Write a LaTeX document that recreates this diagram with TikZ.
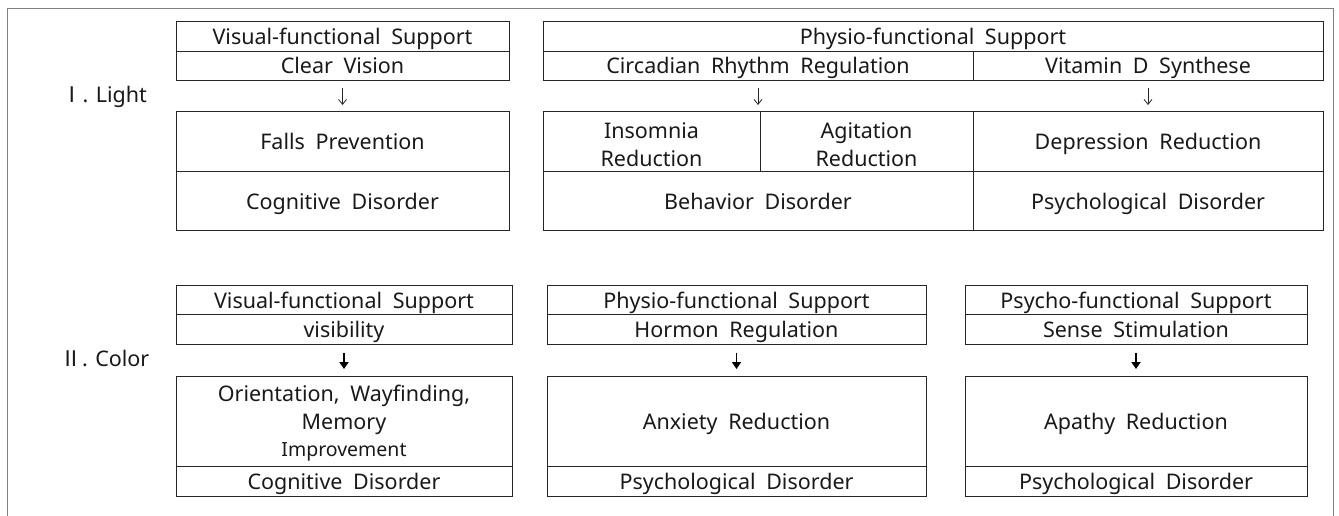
\documentclass[tikz,border=0pt]{standalone}
\usepackage{fontspec}
\setmainfont{Noto Sans}[WordSpace=1.9]
\newfontfamily\lblfont{Noto Sans}
\newfontfamily\symfont{Noto Sans CJK KR}
\usetikzlibrary{arrows.meta,calc}
\begin{document}
\begin{tikzpicture}[x=1pt,y=-1pt,
  cell/.style={draw=black!85,line width=0.9pt,inner sep=0pt,outer sep=0pt,align=center,
    font=\fontsize{21.5}{28}\selectfont,text=black!90},
  one/.style={text height=19pt,text depth=2pt},
  lbl/.style={font=\lblfont\fontsize{21.5}{24}\selectfont,text=black!90,inner sep=0pt},
  thinarr/.style={draw=black!85,line width=0.8pt,-{Straight Barb[length=5pt,width=8pt]}},
  boldarr/.style={draw=black,line width=1.8pt,-{Triangle[length=7pt,width=9pt]}},
  frame/.style={draw=black!50,line width=1.4pt}]
\useasboundingbox (0,0) rectangle (1339,516);
% outer frame
\draw[frame] (7.5,516) -- (7.5,8.5) -- (1333.5,8.5) -- (1333.5,516);

% ---------- I. Light ----------
\node[lbl] (lightlbl) at (104,97) {{\symfont Ⅰ}. Light};
% left block
\node[cell,one,minimum width=333pt,minimum height=30pt] (la1) at (342.5,36) {Visual-functional Support};
\node[cell,one,minimum width=333pt,minimum height=29pt] (la2) at (342.5,65.5) {Clear Vision};
\node[cell,one,minimum width=333pt,minimum height=60pt] (la3) at (342.5,141) {Falls Prevention};
\node[cell,one,minimum width=333pt,minimum height=59pt] (la4) at (342.5,200.5) {Cognitive Disorder};
\draw[thinarr,shorten <=8pt,shorten >=6pt] (la2.south) -- (la3.north);
% right block
\node[cell,one,minimum width=780pt,minimum height=30pt] (lb1) at (933,36) {Physio-functional Support};
\node[cell,one,minimum width=430pt,minimum height=29pt] (lb2) at (758,65.5) {Circadian Rhythm Regulation};
\node[cell,one,minimum width=350pt,minimum height=29pt] (lb3) at (1148,65.5) {Vitamin D Synthese};
\node[cell,minimum width=217pt,minimum height=60pt] (lb4) at (651.5,141) {};
\node[cell,minimum width=213pt,minimum height=60pt] (lb5) at (866.5,141) {};
\node[cell,align=center,draw=none,anchor=center] (lb4t) at ([yshift=-4pt]lb4.center) {Insomnia\\Reduction};
\node[cell,align=center,draw=none,anchor=center] (lb5t) at ([yshift=-4pt]lb5.center) {Agitation\\Reduction};
\node[cell,one,minimum width=350pt,minimum height=60pt] (lb6) at (1148,141) {Depression Reduction};
\node[cell,one,minimum width=430pt,minimum height=59pt] (lb7) at (758,200.5) {Behavior Disorder};
\node[cell,one,minimum width=350pt,minimum height=59pt] (lb8) at (1148,200.5) {Psychological Disorder};
\draw[thinarr,shorten <=8pt,shorten >=6pt] (lb2.south) -- (lb2.south |- lb4.north);
\draw[thinarr,shorten <=8pt,shorten >=6pt] (lb3.south) -- (lb6.north);

% ---------- II. Color ----------
\node[lbl] (colorlbl) at (105,358) {{\symfont Ⅱ}. Color};
% left
\node[cell,one,minimum width=336pt,minimum height=29pt] (ca1) at (344,299.5) {Visual-functional Support};
\node[cell,one,minimum width=336pt,minimum height=30pt] (ca2) at (344,329) {visibility};
\node[cell,minimum width=336pt,minimum height=90pt] (ca3) at (344,421) {};
\node[cell,draw=none] (ca3t) at ([yshift=-2pt]ca3.center) {Orientation, Wayfinding,\\Memory\\[-0.5pt]{\fontsize{19.5}{24}\selectfont Improvement}};
\node[cell,one,minimum width=336pt,minimum height=30pt] (ca4) at (344,481) {Cognitive Disorder};
\draw[boldarr,shorten <=9pt,shorten >=7pt] (ca2.south) -- (ca3.north);
% middle
\node[cell,one,minimum width=379pt,minimum height=29pt] (cb1) at (736.5,299.5) {Physio-functional Support};
\node[cell,one,minimum width=379pt,minimum height=30pt] (cb2) at (736.5,329) {Hormon Regulation};
\node[cell,one,minimum width=379pt,minimum height=90pt] (cb3) at (736.5,421) {Anxiety Reduction};
\node[cell,one,minimum width=379pt,minimum height=30pt] (cb4) at (736.5,481) {Psychological Disorder};
\draw[boldarr,shorten <=9pt,shorten >=7pt] (cb2.south) -- (cb3.north);
% right
\node[cell,one,minimum width=342pt,minimum height=29pt] (cc1) at (1136,299.5) {Psycho-functional Support};
\node[cell,one,minimum width=342pt,minimum height=30pt] (cc2) at (1136,329) {Sense Stimulation};
\node[cell,one,minimum width=342pt,minimum height=90pt] (cc3) at (1136,421) {Apathy Reduction};
\node[cell,one,minimum width=342pt,minimum height=30pt] (cc4) at (1136,481) {Psychological Disorder};
\draw[boldarr,shorten <=9pt,shorten >=7pt] (cc2.south) -- (cc3.north);
\end{tikzpicture}
\end{document}
